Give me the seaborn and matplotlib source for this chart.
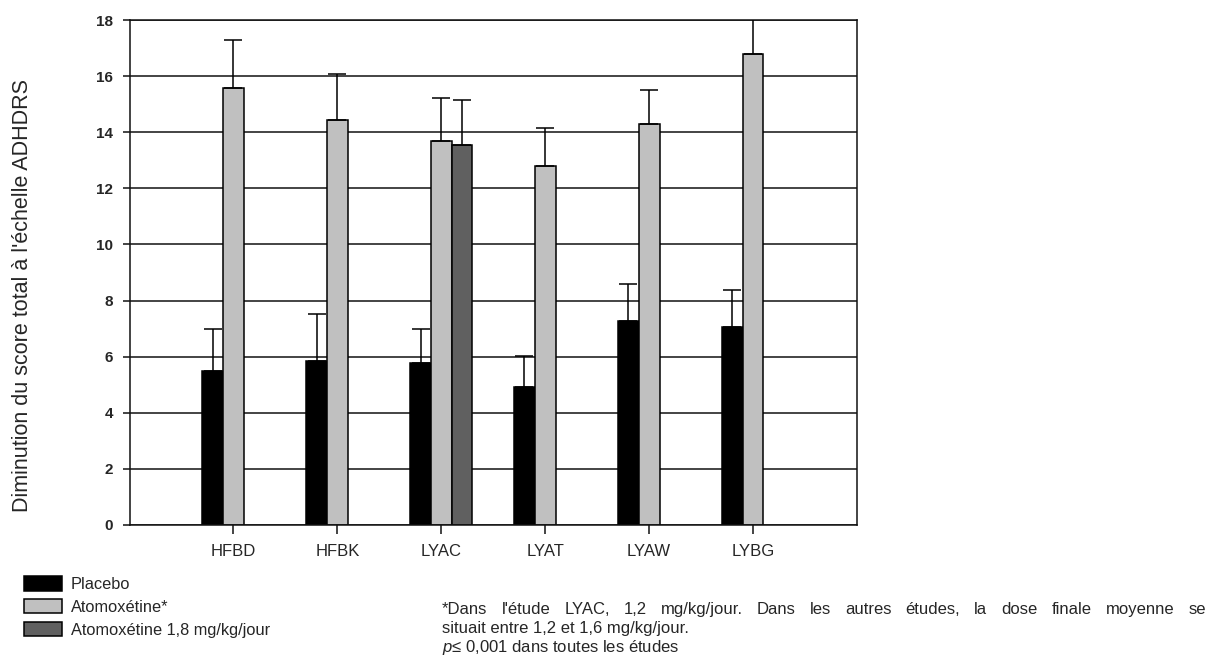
import numpy as np
import pandas as pd
import matplotlib
matplotlib.use("Agg")
import matplotlib.pyplot as plt
import seaborn as sns

# ---------------- data ----------------
studies = ["HFBD", "HFBK", "LYAC", "LYAT", "LYAW", "LYBG"]
groups = ["Placebo", "Atomoxétine*", "Atomoxétine 1,8 mg/kg/jour"]
placebo = [5.50, 5.86, 5.79, 4.93, 7.28, 7.06]
placebo_err = [1.47, 1.67, 1.18, 1.11, 1.32, 1.32]
atomox = [15.58, 14.45, 13.67, 12.81, 14.31, 16.79]
atomox_err = [1.70, 1.63, 1.55, 1.34, 1.19, 1.50]
atomox18 = [np.nan, np.nan, 13.53, np.nan, np.nan, np.nan]
atomox18_err = [np.nan, np.nan, 1.62, np.nan, np.nan, np.nan]
colors = ["#000000", "#c0c0c0", "#606060"]
yticks = [0, 2, 4, 6, 8, 10, 12, 14, 16, 18]
ylabel = "Diminution du score total à l'échelle ADHDRS"
foot1 = "*Dans l'étude LYAC, 1,2 mg/kg/jour. Dans les autres études, la dose finale moyenne se"
foot2 = "situait entre 1,2 et 1,6 mg/kg/jour."
foot3 = r"$p$≤ 0,001 dans toutes les études"

values = [placebo, atomox, atomox18]
errors = [placebo_err, atomox_err, atomox18_err]

rows = []
for g, vals in zip(groups, values):
    for s, v in zip(studies, vals):
        rows.append({"study": s, "group": g, "value": v})
df = pd.DataFrame(rows)

# ---------------- style ----------------
sns.set_style("white")
plt.rcParams["font.family"] = ["Liberation Sans", "DejaVu Sans"]
plt.rcParams["mathtext.fontset"] = "custom"
plt.rcParams["mathtext.it"] = "Liberation Sans:italic"
plt.rcParams["mathtext.rm"] = "Liberation Sans"

W, H = 1212, 660
fig = plt.figure(figsize=(W / 100, H / 100), dpi=100)
ax = fig.add_axes([129.5 / W, 1 - 525 / H, (857 - 129.5) / W, (525 - 20) / H])

sns.barplot(data=df, x="study", y="value", hue="group", hue_order=groups,
            order=studies, palette=colors, width=0.6, edgecolor="black",
            linewidth=1.1, saturation=1, ax=ax, errorbar=None)

# error bars (upper only)
for cont, errs in zip(ax.containers, errors):
    for bar in cont:
        h = bar.get_height()
        if not np.isfinite(h) or h == 0:
            continue
        xc = bar.get_x() + bar.get_width() / 2
        idx = int(round(xc))
        e = errs[idx]
        if not np.isfinite(e):
            continue
        ax.errorbar(xc, h, yerr=[[0], [e]], fmt="none", ecolor="black",
                    elinewidth=1.1, capsize=6.5, capthick=1.1, zorder=3)

ax.set_xlim(-1, 6)
ax.set_ylim(0, 18)
ax.set_yticks(yticks)
ax.set_xlabel("")
ax.set_ylabel("")
ax.set_axisbelow(True)
ax.yaxis.grid(True, color="#111111", linewidth=1.1)
ax.xaxis.grid(False)
for sp in ax.spines.values():
    sp.set_visible(True)
    sp.set_color("#111111")
    sp.set_linewidth(1.1)
ax.tick_params(axis="y", direction="out", length=5, width=1.1, pad=7,
               labelsize=11, color="#111111", left=True)
ax.tick_params(axis="x", direction="out", length=6.5, width=1.1, pad=7,
               labelsize=12, color="#111111", bottom=True)
for t in ax.get_yticklabels():
    t.set_fontweight("bold")

# legend
handles, labels = ax.get_legend_handles_labels()
if ax.get_legend() is not None:
    ax.get_legend().remove()
fig.legend(handles, labels, loc="upper left",
           bbox_to_anchor=(24 / W, 1 - 576 / H), frameon=False,
           fontsize=11.8, handlelength=2.3, handleheight=1.0,
           handletextpad=0.55, labelspacing=0.42, borderpad=0,
           borderaxespad=0)

# y label
fig.text(23 / W, 1 - 295 / H, ylabel, rotation=90, ha="center",
         va="center", fontsize=15.5)

# footnote: justified first line
fs_note = 12
x0, x1 = 442, 1206
words = foot1.split(" ")
fig.canvas.draw()
renderer = fig.canvas.get_renderer()
txts = [fig.text(0, 1 - 614 / H, w, fontsize=fs_note, va="baseline")
        for w in words]
widths = [t.get_window_extent(renderer).width for t in txts]
gap = (x1 - x0 - sum(widths)) / (len(words) - 1)
xpos = x0
for t, wd in zip(txts, widths):
    t.set_x(xpos / W)
    xpos += wd + gap
fig.text(x0 / W, 1 - 633 / H, foot2, fontsize=fs_note, va="baseline")
fig.text(x0 / W, 1 - 652 / H, foot3, fontsize=fs_note, va="baseline")

fig.savefig("out.png", dpi=100)
